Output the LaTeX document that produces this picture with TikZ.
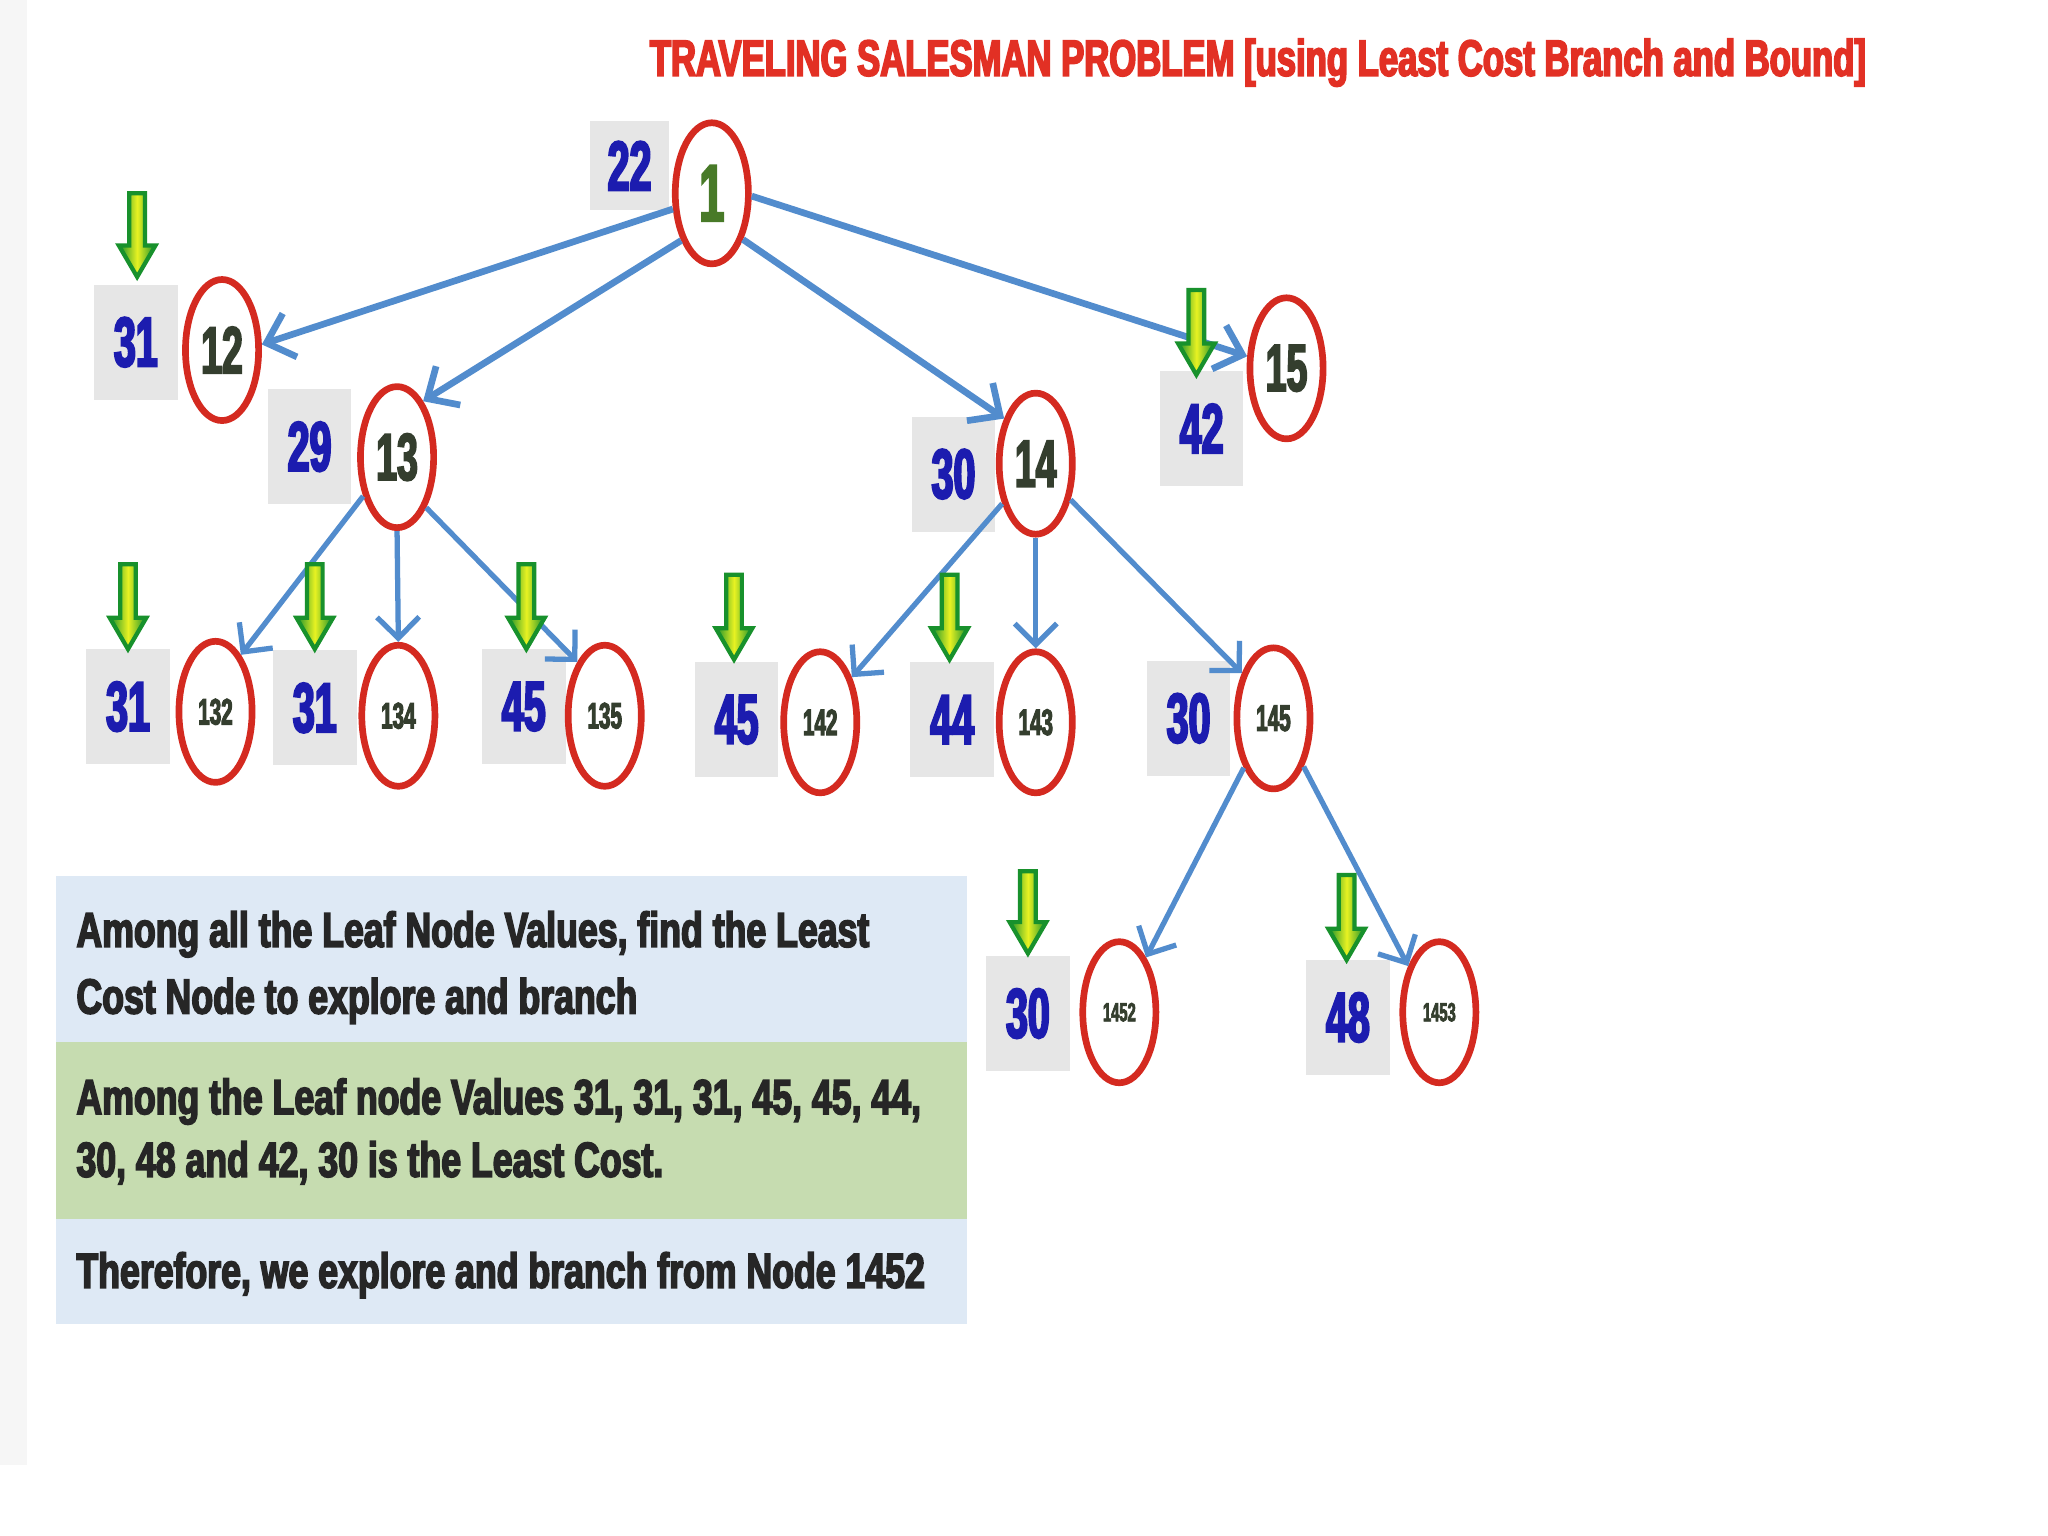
\documentclass[tikz,border=0pt]{standalone}
\usepackage{fontspec}
\usetikzlibrary{shapes.geometric,arrows.meta}
\newfontfamily\tf[UprightFont={* Bold},FakeStretch=0.68]{Liberation Sans}
\newfontfamily\cf[UprightFont={* Bold},FakeStretch=0.725]{Liberation Sans}
\newfontfamily\nf[UprightFont={* Bold},FakeStretch=0.56]{Liberation Sans}
\newcommand\heavy[2]{\special{pdf:literal direct 2 Tr #1 w}#2\special{pdf:literal direct 0 Tr}}
\def\px{0.013061cm}
\definecolor{nodered}{RGB}{212,42,32}
\definecolor{numblue}{RGB}{28,28,175}
\definecolor{labeldark}{RGB}{52,62,46}
\definecolor{rootgreen}{RGB}{72,122,40}
\definecolor{edgeblue}{RGB}{82,140,205}
\definecolor{boxgray}{RGB}{230,230,230}
\definecolor{titlered}{RGB}{226,48,36}
\definecolor{arrowgreen}{RGB}{24,145,44}
\definecolor{arrowyellow}{RGB}{232,242,34}
\definecolor{bandblue}{RGB}{222,233,245}
\definecolor{bandgreen}{RGB}{198,220,176}
\definecolor{leftgray}{RGB}{246,246,246}
\newcommand\garrow[3]{\path[garrowst] (#1-6,#2) -- (#1+6,#2) -- (#1+6,#3-24) -- (#1+14,#3-24) -- (#1,#3) -- (#1-14,#3-24) -- (#1-6,#3-24) -- cycle;}
\begin{document}
\begin{tikzpicture}[x=0.013061cm,y=-0.013061cm,
  ell/.style={ellipse, draw=nodered, line width=1.9pt, fill=white, minimum width=56*\px, minimum height=108*\px, inner sep=0pt, text=labeldark, font=\nf\fontsize{19}{19}\selectfont},
  small/.style={font=\nf\fontsize{10.5}{10.5}\selectfont},
  tiny/.style={font=\nf\fontsize{7.5}{7.5}\selectfont},
  costbox/.style={fill=boxgray, minimum width=64*\px, minimum height=88*\px, inner sep=0pt, text=numblue, font=\nf\fontsize{20}{20}\selectfont},
  edge/.style={draw=edgeblue, line width=1.9pt, -{Straight Barb[length=7pt,width=13pt]}},
  edgeb/.style={draw=edgeblue, line width=1.5pt, -{Straight Barb[length=6pt,width=12pt]}},
  garrowst/.style={draw=arrowgreen, line width=1.2pt, left color=arrowgreen, right color=arrowgreen, middle color=arrowyellow},
  boxtxt/.style={anchor=base west, inner sep=0pt, text=black!85, font=\cf\fontsize{14}{17}\selectfont},
  band/.style={anchor=north west, inner sep=0pt, minimum width=698*\px}
]
\useasboundingbox (0,0) rectangle (1568,1176);
\fill[white] (0,0) rectangle (1568,1176);
\fill[leftgray] (0,0) rectangle (21,1122);

% title
\node[anchor=base west, inner sep=0pt, text=titlered, font=\tf\fontsize{14.5}{17}\selectfont] (title) at (497,58) {\heavy{0.5}{TRAVELING SALESMAN PROBLEM [using Least Cost Branch and Bound]}};

% cost boxes
\node[costbox, minimum width=60*\px, minimum height=68*\px] (c1) at (482,127) {\heavy{0.6}{22}};
\node[costbox] (c12) at (104,262) {\heavy{0.6}{31}};
\node[costbox] (c13) at (237,342) {\heavy{0.6}{29}};
\node[costbox] (c14) at (730,363) {\heavy{0.6}{30}};
\node[costbox] (c15) at (920,328) {\heavy{0.6}{42}};
\node[costbox] (c132) at (98,541) {\heavy{0.6}{31}};
\node[costbox] (c134) at (241,542) {\heavy{0.6}{31}};
\node[costbox] (c135) at (401,541) {\heavy{0.6}{45}};
\node[costbox] (c142) at (564,551) {\heavy{0.6}{45}};
\node[costbox] (c143) at (729,551) {\heavy{0.6}{44}};
\node[costbox] (c145) at (910,550) {\heavy{0.6}{30}};
\node[costbox] (c1452) at (787,776) {\heavy{0.6}{30}};
\node[costbox] (c1453) at (1032,779) {\heavy{0.6}{48}};

% tree nodes
\node[ell, text=rootgreen, font=\nf\fontsize{23}{23}\selectfont] (n1) at (545,148) {\heavy{0.6}{1}};
\node[ell] (n12) at (170,268) {\heavy{0.5}{12}};
\node[ell] (n13) at (304,350) {\heavy{0.5}{13}};
\node[ell] (n14) at (793,355) {\heavy{0.5}{14}};
\node[ell] (n15) at (985,282) {\heavy{0.5}{15}};
\node[ell, small] (n132) at (165,545) {\heavy{0.3}{132}};
\node[ell, small] (n134) at (305,548) {\heavy{0.3}{134}};
\node[ell, small] (n135) at (463,548) {\heavy{0.3}{135}};
\node[ell, small] (n142) at (628,553) {\heavy{0.3}{142}};
\node[ell, small] (n143) at (793,553) {\heavy{0.3}{143}};
\node[ell, small] (n145) at (975,550) {\heavy{0.3}{145}};
\node[ell, tiny] (n1452) at (857,775) {\heavy{0.2}{1452}};
\node[ell, tiny] (n1453) at (1102,775) {\heavy{0.2}{1453}};

% edges
\draw[edge] (n1.202) -- (n12.8);
\draw[edge] (n1.237) -- (n13.65);
\draw[edge] (n1.304) -- (n14.125);
\draw[edge] (n1.356) -- (n15.163);
\draw[edgeb] (n13.229) -- (n132.66);
\draw[edgeb] (n13.south) -- (n134.north);
\draw[edgeb] (n13.300) -- (n135.117);
\draw[edgeb] (n14.230) -- (n142.55);
\draw[edgeb] (n14.south) -- (n143.north);
\draw[edgeb] (n14.314) -- (n145.125);
\draw[edgeb] (n145.239) -- (n1452.64);
\draw[edgeb] (n145.302) -- (n1453.124);

% green markers
\garrow{105}{148}{212}
\garrow{916}{222}{287}
\garrow{98}{432}{497}
\garrow{241}{432}{497}
\garrow{403}{432}{497}
\garrow{562}{440}{505}
\garrow{727}{440}{505}
\garrow{787}{667}{730}
\garrow{1031}{670}{735}

% explanation panel
\node[band, fill=bandblue, minimum height=127*\px] (b1) at (42,670) {};
\node[band, fill=bandgreen, minimum height=136*\px] (b2) at (42,797) {};
\node[band, fill=bandblue, minimum height=80*\px] (b3) at (42,933) {};
\node[boxtxt] (t1a) at (58,725) {\heavy{0.45}{Among all the Leaf Node Values, find the Least}};
\node[boxtxt] (t1b) at (58,776) {\heavy{0.45}{Cost Node to explore and branch}};
\node[boxtxt] (t2a) at (58,853) {\heavy{0.45}{Among the Leaf node Values 31, 31, 31, 45, 45, 44,}};
\node[boxtxt] (t2b) at (58,901) {\heavy{0.45}{30, 48 and 42, 30 is the Least Cost.}};
\node[boxtxt] (t3) at (58,986) {\heavy{0.45}{Therefore, we explore and branch from Node 1452}};
\end{tikzpicture}
\end{document}
